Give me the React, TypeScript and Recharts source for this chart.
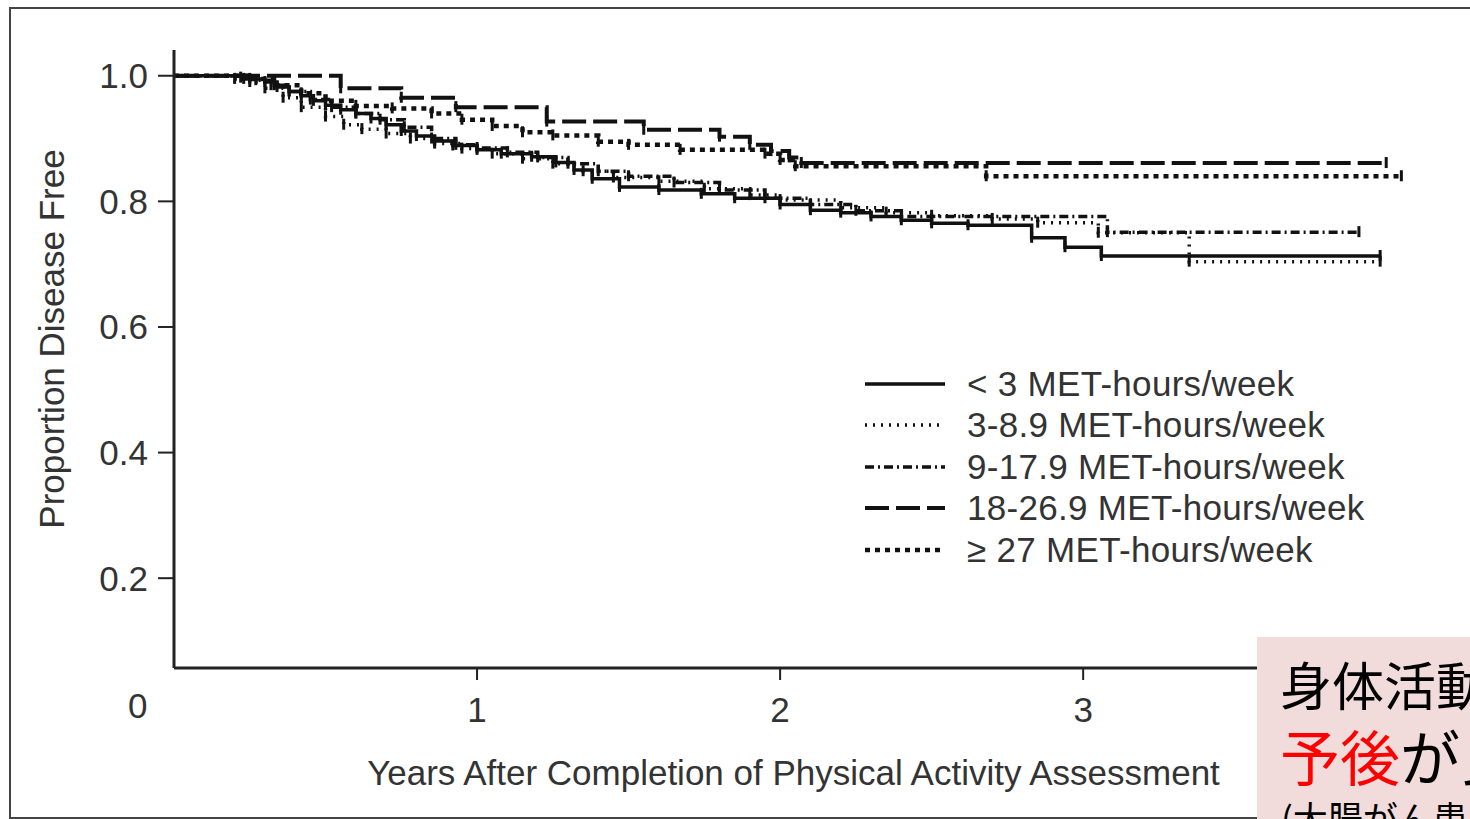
import React from 'react';
import { Legend, Line, LineChart, XAxis, YAxis } from 'recharts';

// Kaplan-Meier steps: t = years, s = proportion disease free
const lt3 = [
  { t: 0, s: 1 }, { t: 0.23, s: 0.995 }, { t: 0.3, s: 0.99 }, { t: 0.34, s: 0.982 },
  { t: 0.38, s: 0.975 }, { t: 0.42, s: 0.968 }, { t: 0.46, s: 0.96 }, { t: 0.5, s: 0.953 },
  { t: 0.55, s: 0.946 }, { t: 0.6, s: 0.94 }, { t: 0.65, s: 0.932 }, { t: 0.7, s: 0.922 },
  { t: 0.75, s: 0.912 }, { t: 0.8, s: 0.904 }, { t: 0.86, s: 0.896 }, { t: 0.92, s: 0.889 },
  { t: 1.0, s: 0.882 }, { t: 1.08, s: 0.876 }, { t: 1.18, s: 0.871 }, { t: 1.26, s: 0.862 },
  { t: 1.32, s: 0.85 }, { t: 1.38, s: 0.836 }, { t: 1.47, s: 0.823 }, { t: 1.6, s: 0.818 },
  { t: 1.74, s: 0.812 }, { t: 1.85, s: 0.805 }, { t: 2.0, s: 0.795 }, { t: 2.1, s: 0.786 },
  { t: 2.2, s: 0.782 }, { t: 2.3, s: 0.776 }, { t: 2.4, s: 0.77 }, { t: 2.5, s: 0.765 },
  { t: 2.62, s: 0.762 }, { t: 2.83, s: 0.742 }, { t: 2.94, s: 0.727 }, { t: 3.06, s: 0.713 },
  { t: 3.98, s: 0.713 },
];

const met3to9 = [
  { t: 0, s: 1 }, { t: 0.2, s: 0.995 }, { t: 0.25, s: 0.99 }, { t: 0.3, s: 0.98 },
  { t: 0.36, s: 0.965 }, { t: 0.42, s: 0.95 }, { t: 0.5, s: 0.935 }, { t: 0.56, s: 0.922 },
  { t: 0.62, s: 0.915 }, { t: 0.7, s: 0.908 }, { t: 0.78, s: 0.9 }, { t: 0.86, s: 0.892 },
  { t: 0.95, s: 0.884 }, { t: 1.05, s: 0.876 }, { t: 1.15, s: 0.868 }, { t: 1.25, s: 0.86 },
  { t: 1.35, s: 0.848 }, { t: 1.45, s: 0.838 }, { t: 1.6, s: 0.832 }, { t: 1.75, s: 0.82 },
  { t: 1.9, s: 0.81 }, { t: 2.0, s: 0.802 }, { t: 2.2, s: 0.79 }, { t: 2.35, s: 0.782 },
  { t: 2.5, s: 0.777 }, { t: 2.7, s: 0.772 }, { t: 2.85, s: 0.766 }, { t: 3.05, s: 0.75 },
  { t: 3.35, s: 0.704 }, { t: 3.98, s: 0.704 },
];

const met9to18 = [
  { t: 0, s: 1 }, { t: 0.22, s: 0.997 }, { t: 0.27, s: 0.993 }, { t: 0.32, s: 0.985 },
  { t: 0.38, s: 0.975 }, { t: 0.45, s: 0.962 }, { t: 0.52, s: 0.95 }, { t: 0.6, s: 0.94 },
  { t: 0.68, s: 0.93 }, { t: 0.76, s: 0.918 }, { t: 0.85, s: 0.9 }, { t: 0.93, s: 0.89 },
  { t: 1.0, s: 0.885 }, { t: 1.1, s: 0.878 }, { t: 1.2, s: 0.87 }, { t: 1.3, s: 0.86 },
  { t: 1.4, s: 0.848 }, { t: 1.5, s: 0.84 }, { t: 1.65, s: 0.83 }, { t: 1.8, s: 0.818 },
  { t: 1.95, s: 0.805 }, { t: 2.1, s: 0.795 }, { t: 2.25, s: 0.785 }, { t: 2.4, s: 0.776 },
  { t: 3.08, s: 0.751 }, { t: 3.91, s: 0.751 },
];

const met18to27 = [
  { t: 0, s: 1 }, { t: 0.55, s: 0.98 }, { t: 0.75, s: 0.965 }, { t: 0.93, s: 0.95 },
  { t: 1.23, s: 0.927 }, { t: 1.55, s: 0.914 }, { t: 1.8, s: 0.903 }, { t: 1.9, s: 0.89 },
  { t: 1.97, s: 0.88 }, { t: 2.03, s: 0.87 }, { t: 2.07, s: 0.861 }, { t: 4.0, s: 0.861 },
];

const ge27 = [
  { t: 0, s: 1 }, { t: 0.25, s: 0.995 }, { t: 0.33, s: 0.985 }, { t: 0.42, s: 0.972 },
  { t: 0.5, s: 0.96 }, { t: 0.6, s: 0.952 }, { t: 0.72, s: 0.948 }, { t: 0.85, s: 0.94 },
  { t: 0.95, s: 0.93 }, { t: 1.05, s: 0.92 }, { t: 1.15, s: 0.91 }, { t: 1.25, s: 0.905 },
  { t: 1.4, s: 0.895 }, { t: 1.5, s: 0.89 }, { t: 1.67, s: 0.882 }, { t: 1.95, s: 0.876 },
  { t: 2.0, s: 0.866 }, { t: 2.05, s: 0.856 }, { t: 2.68, s: 0.84 }, { t: 4.05, s: 0.84 },
];

const seriesNames = [
  '< 3 MET-hours/week',
  '3-8.9 MET-hours/week',
  '9-17.9 MET-hours/week',
  '18-26.9 MET-hours/week',
  '\u2265 27 MET-hours/week',
];
const seriesData = [lt3, met3to9, met9to18, met18to27, ge27];

const yTicks = [0.2, 0.4, 0.6, 0.8, 1.0];
const xTicks = [1, 2, 3];

const xTitle = 'Years After Completion of Physical Activity Assessment';
const yTitle = 'Proportion Disease Free';

// line looks, same order as seriesNames
const strokes = [
  { dash: undefined, width: 3.5 },
  { dash: '2 6', width: 3.5 },
  { dash: '9 4 2 4', width: 3.5 },
  { dash: '24 7', width: 4 },
  { dash: '5 5', width: 4.5 },
];

const FONT = '"Liberation Sans", Arial, Helvetica, sans-serif';
const INK = '#333';

const censorDot = (props: any) => {
  const { cx, cy, index, dataKey, key } = props;
  if (index === 0 || cx == null || cy == null) return <g key={key ?? `${dataKey}-${index}`} />;
  return (
    <line
      key={key ?? `${dataKey}-${index}`}
      x1={cx}
      x2={cx}
      y1={cy - 6}
      y2={cy + 5}
      stroke="#111"
      strokeWidth={3}
    />
  );
};

const renderLegend = () => (
  <div style={{ fontFamily: FONT, fontSize: 35, color: INK, letterSpacing: 0.3 }}>
    {seriesNames.map((name, i) => (
      <div key={name} style={{ display: 'flex', alignItems: 'center', height: 41.5 }}>
        <svg width={84} height={12}>
          <line
            x1={2}
            x2={82}
            y1={6}
            y2={6}
            stroke="#111"
            strokeWidth={strokes[i].width}
            strokeDasharray={strokes[i].dash}
          />
        </svg>
        <span style={{ marginLeft: 20, whiteSpace: 'nowrap' }}>{name}</span>
      </div>
    ))}
  </div>
);

export default function App() {
  return (
    <div
      style={{
        position: 'absolute',
        left: 0,
        top: 0,
        width: 1470,
        height: 819,
        overflow: 'hidden',
        background: '#fff',
      }}
    >
      <div
        style={{
          position: 'absolute',
          left: 9,
          top: 7,
          width: 1500,
          height: 808,
          borderTop: '2px solid #444',
          borderLeft: '2px solid #444',
          borderBottom: '2px solid #444',
        }}
      />
      <LineChart
        width={1470}
        height={819}
        margin={{ top: 50, right: 5, bottom: 0, left: 0 }}
        style={{ position: 'absolute', left: 0, top: 0 }}
      >
        <XAxis
          dataKey="t"
          type="number"
          domain={[0, 4.26]}
          ticks={xTicks}
          allowDataOverflow
          height={151}
          axisLine={{ stroke: '#222', strokeWidth: 3 }}
          tickLine={{ stroke: '#222', strokeWidth: 2 }}
          tickSize={12}
          tickMargin={17}
          tick={{ fill: INK, fontSize: 35, fontFamily: FONT }}
          label={{
            content: ({ viewBox }: any) => (
              <text
                x={viewBox.x + viewBox.width / 2 - 26}
                y={viewBox.y + 104}
                textAnchor="middle"
                dominantBaseline="central"
                fill={INK}
                fontSize={35}
                fontFamily={FONT}
              >
                {xTitle}
              </text>
            ),
          }}
        />
        <YAxis
          type="number"
          domain={[0.057, 1.041]}
          ticks={yTicks}
          allowDataOverflow
          width={174}
          axisLine={{ stroke: '#222', strokeWidth: 3 }}
          tickLine={{ stroke: '#222', strokeWidth: 2 }}
          tickSize={16}
          tickMargin={10}
          tickFormatter={(v: number) => v.toFixed(1)}
          tick={{ fill: INK, fontSize: 35, fontFamily: FONT }}
          label={{
            content: ({ viewBox }: any) => {
              const cx = viewBox.x + 51;
              const cy = viewBox.y + viewBox.height / 2 - 20;
              return (
                <text
                  x={cx}
                  y={cy}
                  transform={`rotate(-90, ${cx}, ${cy})`}
                  textAnchor="middle"
                  dominantBaseline="central"
                  fill={INK}
                  fontSize={35}
                  fontFamily={FONT}
                >
                  {yTitle}
                </text>
              );
            },
          }}
        />
        <Legend
          verticalAlign="middle"
          align="center"
          layout="horizontal"
          content={renderLegend}
          wrapperStyle={{ left: 863, top: 363, width: 'auto', height: 'auto' }}
        />
        {seriesData.map((d, i) => (
          <Line
            key={seriesNames[i]}
            data={d}
            dataKey="s"
            name={seriesNames[i]}
            type="stepAfter"
            stroke="#111"
            strokeWidth={strokes[i].width}
            strokeDasharray={strokes[i].dash}
            dot={censorDot}
            activeDot={false}
            isAnimationActive={false}
          />
        ))}
      </LineChart>
      <div
        style={{
          position: 'absolute',
          left: 128,
          top: 686,
          fontFamily: FONT,
          fontSize: 35,
          color: INK,
          lineHeight: '40px',
        }}
      >
        0
      </div>
      <div
        style={{
          position: 'absolute',
          left: 1257,
          top: 637,
          width: 260,
          height: 200,
          background: '#f2dcdb',
          fontFamily: '"Noto Sans CJK JP", sans-serif',
          whiteSpace: 'nowrap',
        }}
      >
        <div style={{ position: 'absolute', left: 23, top: 18, fontSize: 52, lineHeight: '58px', color: '#000' }}>
          身体活動
        </div>
        <div style={{ position: 'absolute', left: 23, top: 86, fontSize: 60, lineHeight: '64px', color: '#000' }}>
          <span style={{ color: '#ff0000' }}>予後</span>が良
        </div>
        <div style={{ position: 'absolute', left: 24, top: 158, fontSize: 35, lineHeight: '44px', color: '#000' }}>
          (大腸がん患
        </div>
      </div>
    </div>
  );
}
